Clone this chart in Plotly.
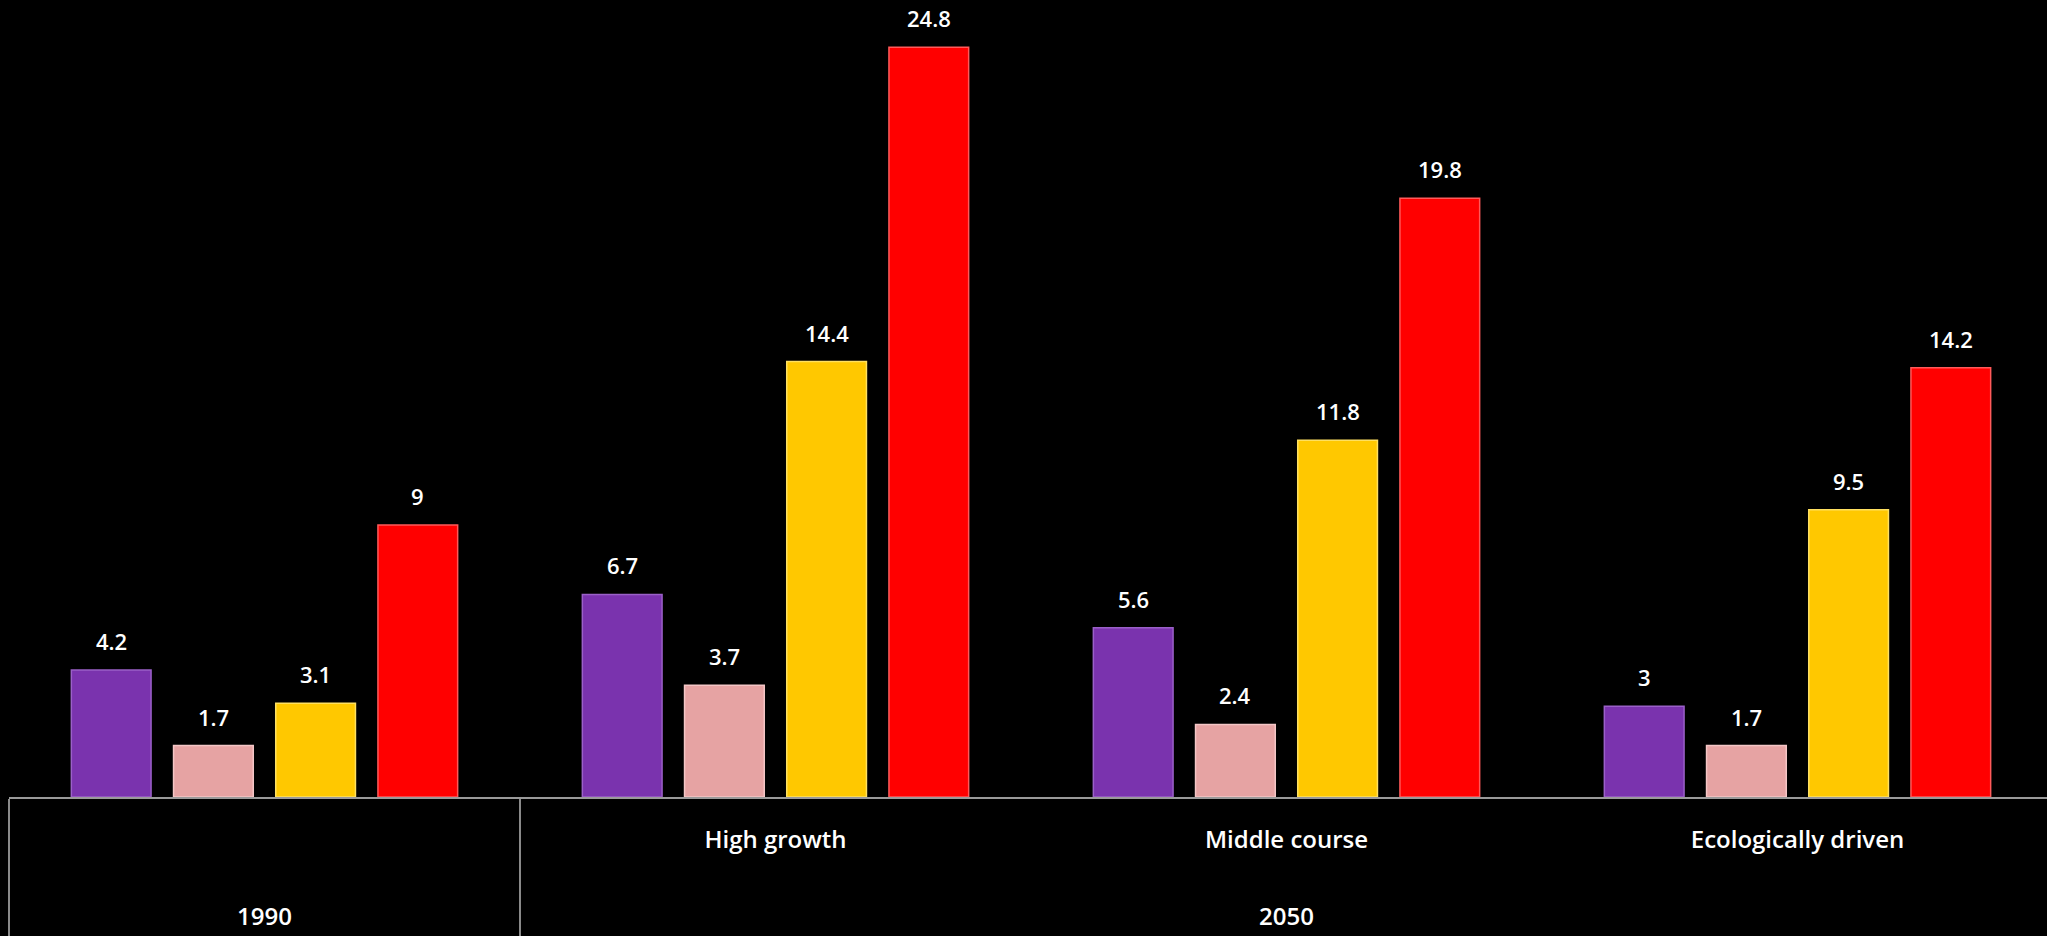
import plotly.graph_objects as go

outer = ["1990", "2050", "2050", "2050"]
inner = ["\u00a0", "High growth", "Middle course", "Ecologically driven"]

series_names = ["Series A", "Series B", "Series C", "Series D"]
series_values = [
    [4.2, 6.7, 5.6, 3.0],
    [1.7, 3.7, 2.4, 1.7],
    [3.1, 14.4, 11.8, 9.5],
    [9, 24.8, 19.8, 14.2],
]
colors = ["#7A33AE", "#E6A3A3", "#FFC800", "#FF0000"]
edge_colors = ["#9A60C8", "#F4C6C6", "#FFE060", "#FF5A5A"]

BARGAP = 0.2
BARGROUPGAP = 0.22
FONT = "Open Sans"

# tick-label text (blank lines give the two-level table its height)
inner_labels = [f"{t}<br>\u00a0<br>\u00a0" for t in inner]
outer_labels = [f"{t}<br>\u00a0<br>\u00a0" for t in outer]

fig = go.Figure()
for name, vals, c, ec in zip(series_names, series_values, colors, edge_colors):
    fig.add_trace(go.Bar(
        x=[outer_labels, inner_labels], y=vals, name=name,
        marker=dict(color=c, line=dict(color=ec, width=1.5)),
        showlegend=False, hoverinfo="y",
    ))

# value labels above each bar
n = len(series_values)
slot = (1 - BARGAP) / n
for j, vals in enumerate(series_values):
    for i, v in enumerate(vals):
        fig.add_annotation(
            x=i + (j - (n - 1) / 2) * slot, y=v, xref="x", yref="y",
            text=f"{v:g}", showarrow=False, yanchor="bottom", yshift=12,
            font=dict(family=FONT, size=22, color="white", weight=600),
        )

fig.update_layout(
    width=2053, height=936,
    paper_bgcolor="black", plot_bgcolor="black",
    margin=dict(l=9, r=0, t=0, b=139),
    barmode="group", bargap=BARGAP, bargroupgap=BARGROUPGAP,
    font=dict(family=FONT, color="white", size=24),
)
fig.update_xaxes(
    type="multicategory", automargin=False,
    showline=True, linecolor="#9a9a9a", linewidth=2,
    showgrid=False, ticks="", ticklabelstandoff=20,
    showdividers=True, dividercolor="#8a8a8a", dividerwidth=2,
    tickfont=dict(family=FONT, size=24, color="white", weight=600),
)
fig.update_yaxes(range=[0, 26.36], visible=False, showgrid=False, zeroline=False,
                 automargin=False)

fig.write_html(
    "out.html",
    config={"displayModeBar": False},
    post_script=("document.body.style.margin='0';"
                 "document.body.style.background='black';"
                 "document.body.style.overflow='hidden';"
                 "document.documentElement.style.overflow='hidden';"),
)
